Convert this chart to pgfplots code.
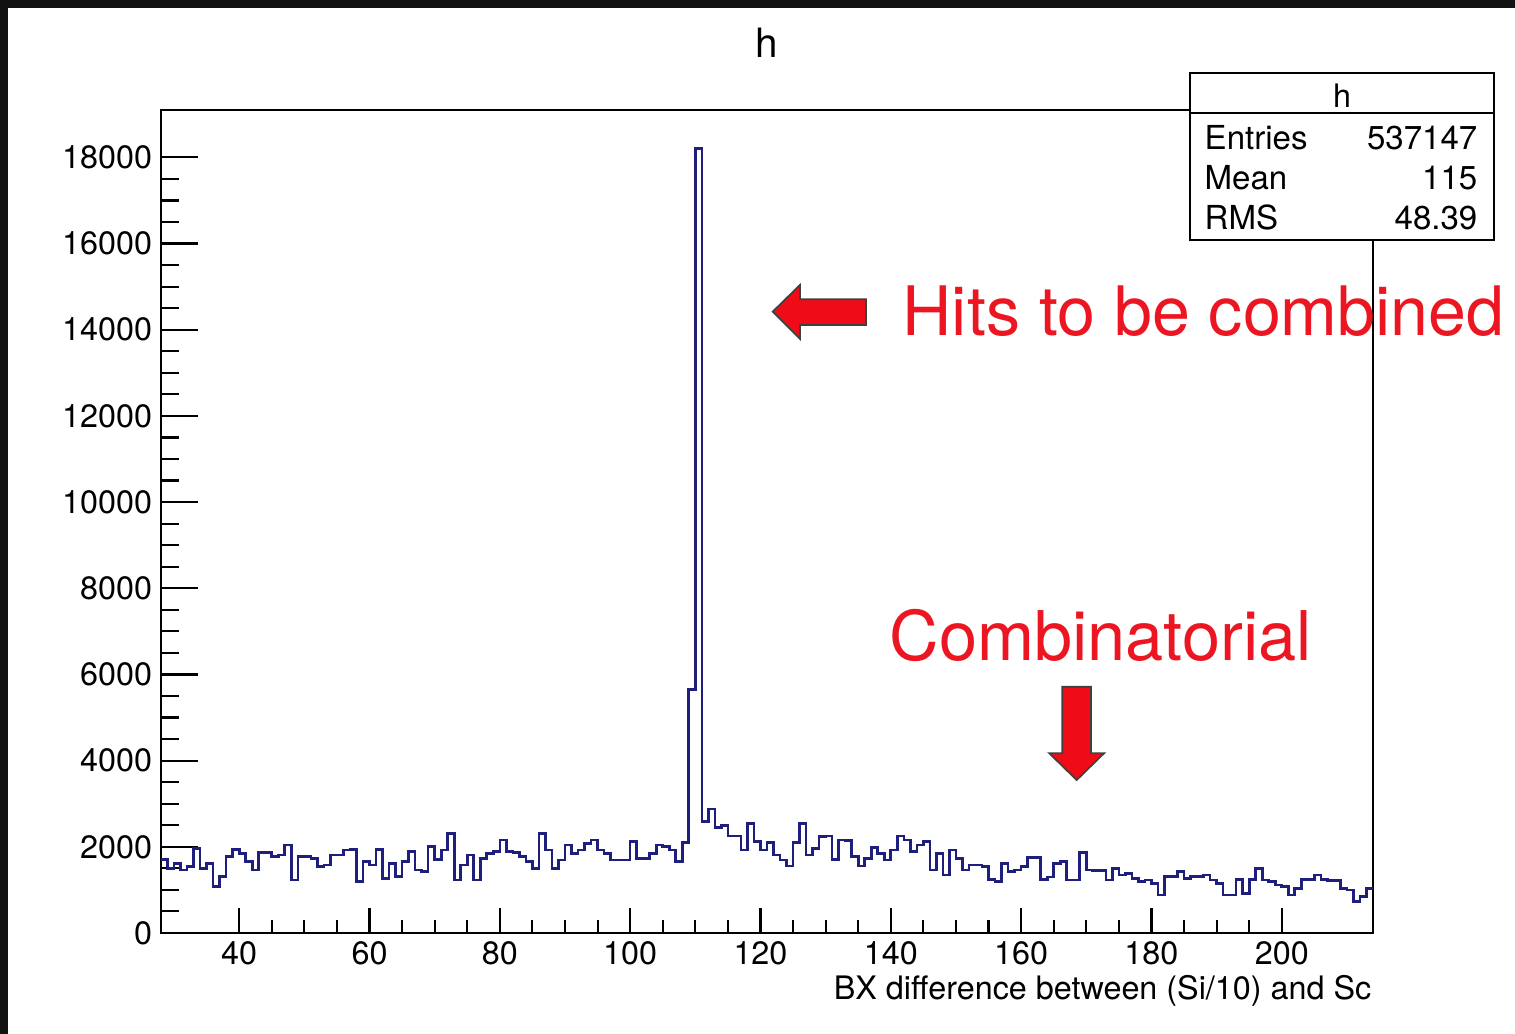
\documentclass[border=0pt]{standalone}
\usepackage{fontspec}
\setmainfont{TeX Gyre Heros}
\usepackage{pgfplots}
\pgfplotsset{compat=1.18}
\definecolor{histblue}{RGB}{30,30,125}
\definecolor{arrowred}{RGB}{240,12,22}
\definecolor{textred}{RGB}{236,22,34}
\pgfplotstableread{
x y
28 1700
29 1500
30 1618
31 1464
32 1541
33 1967
34 1502
35 1618
36 1076
37 1309
38 1773
39 1944
40 1851
41 1657
42 1464
43 1866
44 1866
45 1773
46 1812
47 2045
48 1231
49 1773
50 1773
51 1735
52 1541
53 1579
54 1812
55 1812
56 1928
57 1944
58 1192
59 1657
60 1579
61 1944
62 1270
63 1618
64 1309
65 1657
66 1890
67 1464
68 1425
69 2000
70 1710
71 1928
72 2315
73 1231
74 1579
75 1812
76 1231
77 1735
78 1851
79 1890
80 2160
81 1890
82 1866
83 1773
84 1657
85 1502
86 2315
87 1928
88 1502
89 1696
90 2045
91 1851
92 1928
93 2083
94 2160
95 1928
96 1851
97 1696
98 1696
99 1696
100 2122
101 1735
102 1735
103 1851
104 2045
105 2005
106 1928
107 1657
108 2098
109 5645
110 18200
111 2586
112 2880
113 2450
114 2500
115 2253
116 2253
117 1928
118 2547
119 2122
120 1928
121 2098
122 1812
123 1696
124 1556
125 2098
126 2547
127 1812
128 1967
129 2238
130 2253
131 1711
132 2160
133 2145
134 1773
135 1556
136 1734
137 1990
138 1851
139 1696
140 1928
141 2253
142 2160
143 1889
144 2044
145 2122
146 1464
147 1851
148 1347
149 1928
150 1734
151 1464
152 1580
153 1580
154 1540
155 1247
156 1192
157 1618
158 1425
159 1464
160 1541
161 1758
162 1758
163 1247
164 1300
165 1618
166 1657
167 1231
168 1231
169 1874
170 1464
171 1448
172 1448
173 1231
174 1502
175 1347
176 1386
177 1270
178 1192
179 1231
180 1154
181 883
182 1309
183 1309
184 1425
185 1270
186 1309
187 1309
188 1347
189 1231
190 1154
191 883
192 883
193 1247
194 921
195 1247
196 1502
197 1231
198 1192
199 1115
200 1076
201 883
202 1037
203 1247
204 1247
205 1347
206 1247
207 1215
208 1215
209 1037
210 999
211 728
212 844
213 1037
214 1037
}\histdata
\begin{document}
\begin{tikzpicture}[x=1cm,y=1cm]
\path[use as bounding box] (0,0) rectangle (15.15,10.34);
\fill[black!93] (0,0) rectangle (15.15,10.34);
\fill[white] (0.08,0) rectangle (15.15,10.26);
\begin{axis}[
  at={(1.61cm,1.01cm)}, anchor=south west,
  scale only axis, width=12.12cm, height=8.23cm,
  xmin=28, xmax=214, ymin=0, ymax=19100,
  xtick={40,60,...,200}, minor x tick num=3,
  ytick={0,2000,...,18000}, minor y tick num=3,
  tick pos=left, tick align=inside,
  axis line style={line width=0.6pt},
  every tick/.style={black, line width=0.6pt},
  x tick style={/pgfplots/major tick length=2.5mm, /pgfplots/minor tick length=1.25mm},
  y tick style={/pgfplots/major tick length=3.7mm, /pgfplots/minor tick length=1.85mm},
  scaled y ticks=false,
  /pgf/number format/1000 sep={},
  /pgf/number format/assume math mode=true,
  tick label style={font=\fontsize{9.2}{11}\selectfont},
  xticklabel style={yshift=1pt},
  yticklabel style={xshift=1pt},
]
\addplot[const plot, histblue, line width=0.75pt] table[x=x, y=y] {\histdata};
\end{axis}
% title
\node[anchor=base, font=\fontsize{11.5}{13}\selectfont] at (7.67,9.76) {h};
% x axis title
\node[anchor=base east, inner sep=0pt, font=\fontsize{9.2}{11}\selectfont] at (13.72,0.34) {BX difference between (Si/10) and Sc};
% stat box
\filldraw[fill=white, draw=black, line width=0.6pt] (11.90,7.94) rectangle (14.94,9.61);
\draw[line width=0.6pt] (11.90,9.21) -- (14.94,9.21);
\node[anchor=base, inner sep=0pt, font=\fontsize{9.2}{11}\selectfont] at (13.42,9.26) {h};
\begin{scope}[font=\fontsize{9.4}{11}\selectfont]
\node[anchor=base west, inner sep=0pt] at (12.04,8.84) {Entries};
\node[anchor=base west, inner sep=0pt] at (12.04,8.44) {Mean};
\node[anchor=base west, inner sep=0pt] at (12.04,8.04) {RMS};
\node[anchor=base east, inner sep=0pt] at (14.78,8.84) {537147};
\node[anchor=base east, inner sep=0pt] at (14.78,8.44) {115};
\node[anchor=base east, inner sep=0pt] at (14.78,8.04) {48.39};
\end{scope}
% annotations
\node[anchor=base west, inner sep=0pt, text=textred, font=\fontsize{19.4}{22}\selectfont] at (9.02,6.98) {Hits to be combined};
\node[anchor=base west, inner sep=0pt, text=textred, font=\fontsize{19.5}{22}\selectfont] at (8.89,3.73) {Combinatorial};
\filldraw[fill=arrowred, draw=black!75, line width=0.5pt, line join=miter]
  (7.727,7.223) -- (8.00,7.49) -- (8.00,7.347) -- (8.66,7.347) -- (8.66,7.09) -- (8.00,7.09) -- (8.00,6.95) -- cycle;
\filldraw[fill=arrowred, draw=black!75, line width=0.5pt, line join=miter]
  (10.623,3.473) -- (10.91,3.473) -- (10.91,2.807) -- (11.04,2.807) -- (10.767,2.54) -- (10.493,2.807) -- (10.623,2.807) -- cycle;
\end{tikzpicture}
\end{document}
